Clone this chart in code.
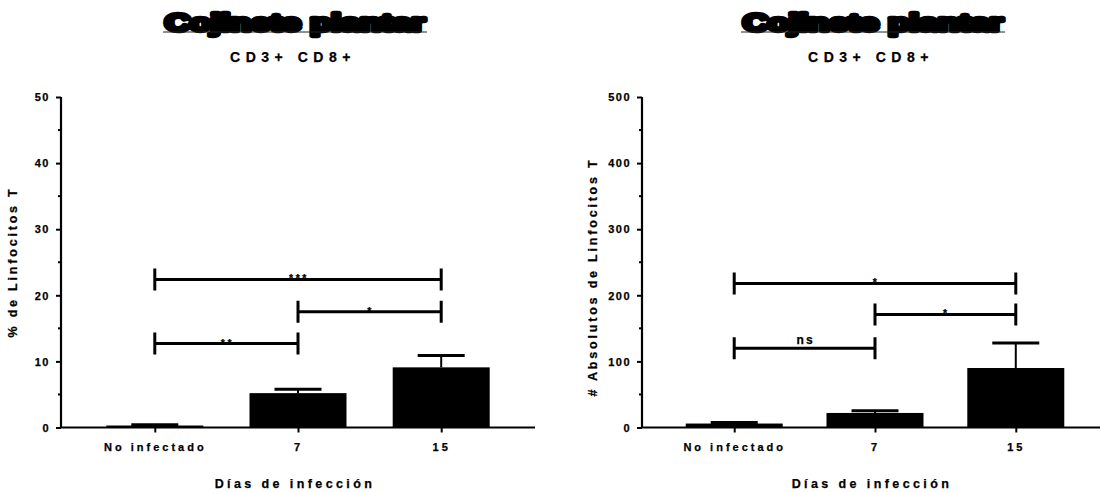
<!DOCTYPE html>
<html>
<head>
<meta charset="utf-8">
<script src="https://cdn.jsdelivr.net/npm/d3@7"></script>
<style>
  body { margin: 0; background: #fff; }
  text { font-family: "Liberation Sans", Arial, sans-serif; font-weight: bold; fill: #000; stroke: #000; stroke-width: 0.25px; }
</style>
</head>
<body>
<div id="chart"></div>
<script>
// data
const categories = ["No infectado", "7", "15"];

const pctMeans = [0.3, 5.2, 9.1];
const pctSem = [0.1, 0.6, 1.8];
const pctTicks = [0, 10, 20, 30, 40, 50];
const pctBrackets = [
  { from: 0, to: 2, y: 22.4, label: "***" },
  { from: 1, to: 2, y: 17.5, label: "*" },
  { from: 0, to: 1, y: 12.7, label: "**" }
];

const absMeans = [6, 22, 90];
const absSem = [1.5, 3.5, 38];
const absTicks = [0, 100, 200, 300, 400, 500];
const absBrackets = [
  { from: 0, to: 2, y: 218, label: "*" },
  { from: 1, to: 2, y: 171, label: "*" },
  { from: 0, to: 1, y: 120, label: "ns" }
];

let svgWidth = 1100,
  svgHeight = 492,
  plotTop = 97,
  plotHeight = 330.5;

const svg = d3
  .select("#chart")
  .append("svg")
  .attr("width", svgWidth)
  .attr("height", svgHeight);

drawPanel({
  left: 61,
  width: 474,
  means: pctMeans,
  sem: pctSem,
  ticks: pctTicks,
  brackets: pctBrackets,
  yLabel: "% de Linfocitos T",
  yLabelX: 17,
  yLabelY: 262,
  titleX: 295
});

drawPanel({
  left: 642,
  width: 466,
  means: absMeans,
  sem: absSem,
  ticks: absTicks,
  brackets: absBrackets,
  yLabel: "# Absolutos de Linfocitos T",
  yLabelX: 597,
  yLabelY: 277,
  titleX: 873
});

function drawPanel(opt) {
  const yMax = opt.ticks[opt.ticks.length - 1];
  const plotWidth = opt.width;

  const x = d3
    .scalePoint()
    .domain(categories)
    .range([0, plotWidth])
    .padding(0.655);

  const y = d3
    .scaleLinear()
    .domain([0, yMax])
    .range([plotHeight, 0]);

  const barWidth = 97,
    capWidth = 47;

  // title
  svg
    .append("text")
    .attr("x", opt.titleX - 130)
    .attr("y", 31)
    .attr("textLength", 260)
    .attr("lengthAdjust", "spacingAndGlyphs")
    .style("font-size", "23px")
    .style("font-weight", "900")
    .style("stroke", "#000")
    .style("stroke-width", "4.5px")
    .style("stroke-linejoin", "round")
    .text("Cojinete plantar");

  svg
    .append("line")
    .attr("x1", opt.titleX - 132)
    .attr("x2", opt.titleX + 132)
    .attr("y1", 32)
    .attr("y2", 32)
    .attr("stroke", "#222")
    .attr("stroke-width", 1);

  svg
    .append("text")
    .attr("x", opt.titleX - 2)
    .attr("y", 62)
    .attr("text-anchor", "middle")
    .style("font-size", "14px")
    .style("letter-spacing", "5.5px")
    .text("CD3+ CD8+");

  const g = svg
    .append("g")
    .attr("transform", "translate(" + opt.left + "," + plotTop + ")");

  // bars
  g.selectAll(".bar")
    .data(opt.means)
    .enter()
    .append("rect")
    .attr("class", "bar")
    .attr("x", (d, i) => x(categories[i]) - barWidth / 2)
    .attr("width", barWidth)
    .attr("y", d => y(d))
    .attr("height", d => plotHeight - y(d))
    .attr("fill", "#000");

  // error bars (upper only)
  const err = g
    .selectAll(".err")
    .data(opt.means)
    .enter()
    .append("g")
    .attr("class", "err");

  err
    .append("line")
    .attr("x1", (d, i) => x(categories[i]))
    .attr("x2", (d, i) => x(categories[i]))
    .attr("y1", d => y(d))
    .attr("y2", (d, i) => y(d + opt.sem[i]))
    .attr("stroke", "#000")
    .attr("stroke-width", 2);

  err
    .append("line")
    .attr("x1", (d, i) => x(categories[i]) - capWidth / 2)
    .attr("x2", (d, i) => x(categories[i]) + capWidth / 2)
    .attr("y1", (d, i) => y(d + opt.sem[i]))
    .attr("y2", (d, i) => y(d + opt.sem[i]))
    .attr("stroke", "#000")
    .attr("stroke-width", 3);

  // y axis
  const minorTicks = d3.range(0, yMax + 0.001, yMax / 10);

  const yAxis = d3
    .axisLeft(y)
    .tickValues(opt.ticks)
    .tickSize(5)
    .tickPadding(6)
    .tickFormat(d3.format("d"));

  const yG = g.append("g").attr("class", "y-axis").call(yAxis);
  yG.select(".domain").attr("stroke-width", 2.2).attr("d", "M0,0V" + plotHeight);
  yG.selectAll(".tick line").attr("stroke-width", 2);
  yG.selectAll(".tick text")
    .style("font-size", "11px")
    .style("letter-spacing", "1.5px")
    .attr("dy", "0.34em");

  yG.selectAll(".minor")
    .data(minorTicks.filter((d, i) => i % 2 === 1))
    .enter()
    .append("line")
    .attr("class", "minor")
    .attr("x1", -3)
    .attr("x2", 0)
    .attr("y1", d => y(d))
    .attr("y2", d => y(d))
    .attr("stroke", "#000")
    .attr("stroke-width", 2);

  // x axis
  const xAxis = d3
    .axisBottom(x)
    .tickSize(5)
    .tickPadding(11);

  const xG = g
    .append("g")
    .attr("class", "x-axis")
    .attr("transform", "translate(0," + plotHeight + ")")
    .call(xAxis);
  xG.select(".domain").attr("stroke-width", 2.2).attr("d", "M0,0H" + plotWidth);
  xG.selectAll(".tick line").attr("stroke-width", 2);
  xG.selectAll(".tick text")
    .style("font-size", "11px")
    .style("letter-spacing", "3px");

  // axis titles
  svg
    .append("text")
    .attr("transform", "translate(" + opt.yLabelX + "," + opt.yLabelY + ") rotate(-90)")
    .attr("text-anchor", "middle")
    .style("font-size", "12.5px")
    .style("letter-spacing", "2.8px")
    .text(opt.yLabel);

  svg
    .append("text")
    .attr("x", opt.left + x(categories[1]) - 3)
    .attr("y", plotTop + plotHeight + 60)
    .attr("text-anchor", "middle")
    .style("font-size", "12.5px")
    .style("letter-spacing", "3.4px")
    .text("Días de infección");

  // significance brackets
  const br = g
    .selectAll(".bracket")
    .data(opt.brackets)
    .enter()
    .append("g")
    .attr("class", "bracket");

  br.append("path")
    .attr("d", d => {
      const x1 = x(categories[d.from]),
        x2 = x(categories[d.to]),
        yy = y(d.y);
      return `M${x1},${yy - 11}V${yy + 11}M${x1},${yy}H${x2}M${x2},${yy - 11}V${yy + 11}`;
    })
    .attr("fill", "none")
    .attr("stroke", "#000")
    .attr("stroke-width", 3);

  br.append("text")
    .attr("x", d => (x(categories[d.from]) + x(categories[d.to])) / 2 + 1)
    .attr("y", d => (d.label === "ns" ? y(d.y) - 4 : y(d.y) + 3))
    .attr("text-anchor", "middle")
    .style("font-size", d => (d.label === "ns" ? "12px" : "10.5px"))
    .style("letter-spacing", d => (d.label === "ns" ? "2px" : "2.5px"))
    .text(d => d.label);
}
</script>
</body>
</html>
